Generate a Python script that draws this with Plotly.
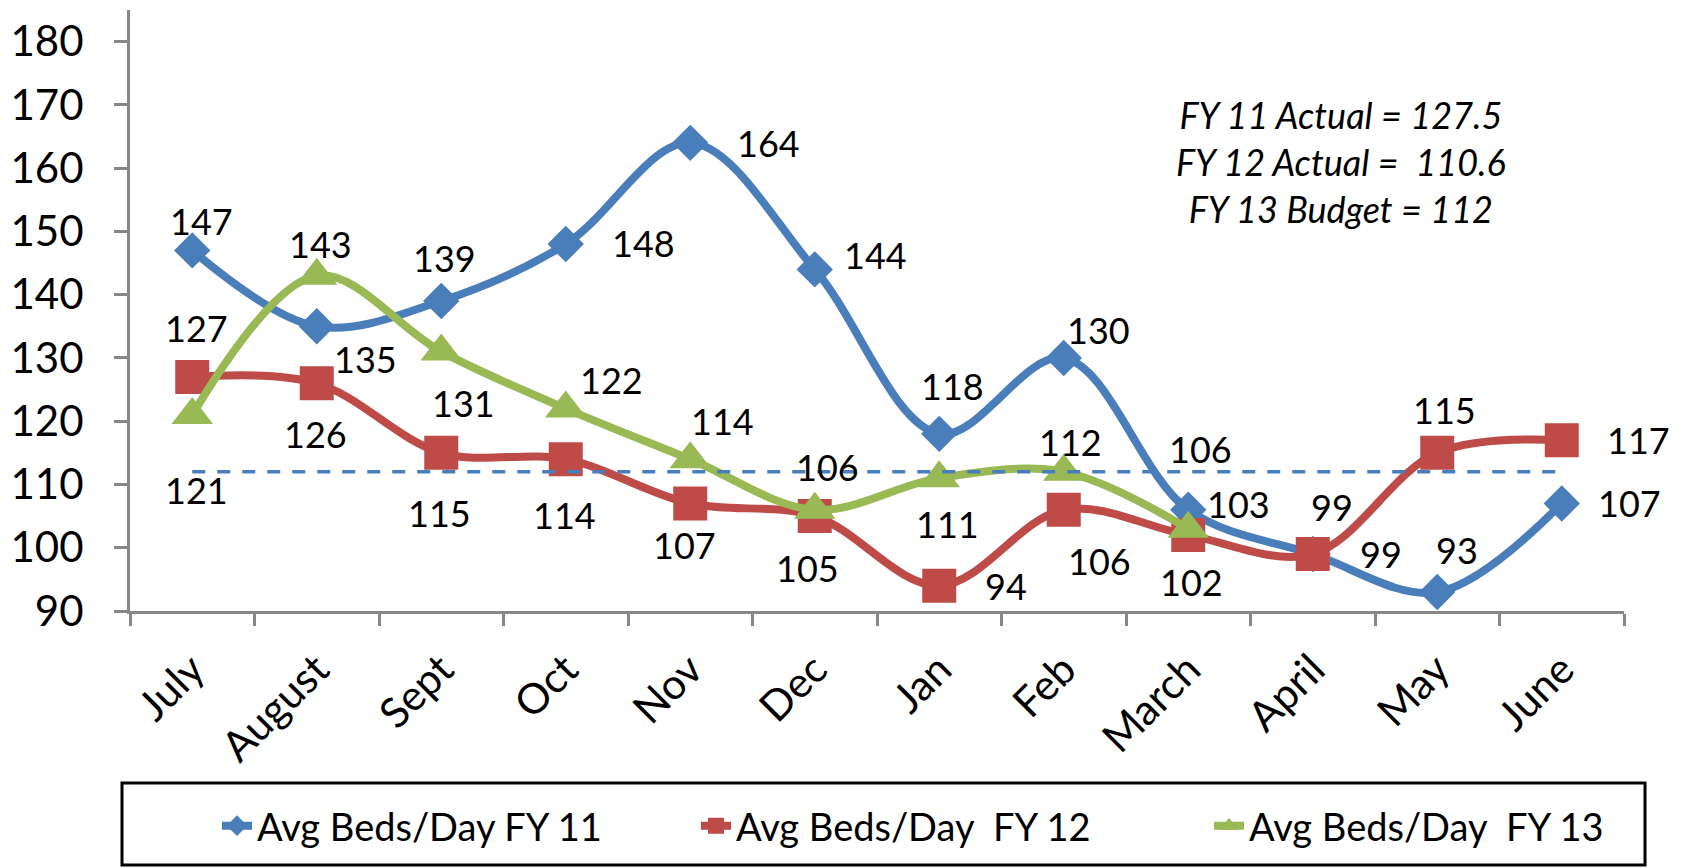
import plotly.graph_objects as go

months = ["July", "August", "Sept", "Oct", "Nov", "Dec", "Jan", "Feb", "March", "April", "May", "June"]
fy11 = [147, 135, 139, 148, 164, 144, 118, 130, 106, 99, 93, 107]
fy12 = [127, 126, 115, 114, 107, 105, 94, 106, 102, 99, 115, 117]
fy13 = [121, 143, 131, 122, 114, 106, 111, 112, 103]
budget = [112] * 12
names = ["Avg Beds/Day FY 11", "Avg Beds/Day\u00a0 FY 12", "Avg Beds/Day\u00a0 FY 13"]
note_lines = ["FY 11 Actual = 127.5", "FY 12 Actual =\u00a0 110.6", "FY 13 Budget = 112"]

# label offsets in pixels (dx right, dy down)
off11 = [(9, -29), (49, 33), (3, -43), (78, -1), (78, 0), (61, -14), (13, -48), (35, -28), (12, -61), (68, 0), (20, -42), (68, 0)]
off12 = [(4, -49), (-1, 51), (-2, 60), (-1, 56), (-6, 42), (-7, 52), (67, 0), (36, 51), (3, 47), (19, -47), (7, -43), (77, 0)]
off13 = [(4, 75), (4, -32), (22, 51), (46, -29), (32, -38), (13, -43), (8, 46), (7, -30), (50, -25)]

BLUE, RED, GREEN = "#4A7EBB", "#BE4B48", "#98B954"
FONT = "Lato"
W, H = 1681, 860

fig = go.Figure()
fig.add_trace(go.Scatter(x=months, y=fy11, name=names[0], mode="lines+markers", legend="legend",
                         line=dict(color=BLUE, width=8, shape="spline", smoothing=1),
                         marker=dict(symbol="diamond", size=28, color=BLUE)))
fig.add_trace(go.Scatter(x=months, y=fy12, name=names[1], mode="lines+markers", legend="legend2",
                         line=dict(color=RED, width=8, shape="spline", smoothing=1),
                         marker=dict(symbol="square", size=34, color=RED)))
fig.add_trace(go.Scatter(x=months[:len(fy13)], y=fy13, name=names[2], mode="lines+markers", legend="legend3",
                         line=dict(color=GREEN, width=8, shape="spline", smoothing=1),
                         marker=dict(symbol="triangle-up", size=36, color=GREEN)))
fig.add_trace(go.Scatter(x=months, y=budget, mode="lines", showlegend=False, hoverinfo="skip",
                         line=dict(color=BLUE, width=3.5, dash="13px,12px")))

ann = []
for vals, offs in ((fy11, off11), (fy12, off12), (fy13, off13)):
    for m, v, (dx, dy) in zip(months, vals, offs):
        ann.append(dict(x=m, y=v, xref="x", yref="y", text=str(v), showarrow=False,
                        xshift=dx, yshift=-dy, xanchor="center", yanchor="middle",
                        font=dict(family=FONT, size=36, color="black")))
ann.append(dict(x=0.8106, y=0.747, xref="paper", yref="paper", showarrow=False,
                text="<br>".join(note_lines), align="center", xanchor="center", yanchor="middle",
                font=dict(family=FONT, size=36, color="black", style="italic")))

def leg(xpx):
    return dict(orientation="h", xref="container", yref="container", x=xpx / W, y=1 - 818 / H,
                xanchor="left", yanchor="middle", font=dict(family=FONT, size=38, color="black"),
                borderwidth=0, bgcolor="rgba(0,0,0,0)")

fig.update_layout(
    width=W, height=H,
    margin=dict(l=122, r=65, t=2, b=257, autoexpand=False),
    paper_bgcolor="white", plot_bgcolor="white",
    font=dict(family=FONT, size=36, color="black"),
    annotations=ann,
    showlegend=True,
    legend=leg(209), legend2=leg(688), legend3=leg(1201),
    shapes=[dict(type="rect", xref="paper", yref="paper",
                 x0=-0.00535, x1=1.01406, y0=-0.4226, y1=-0.2862,
                 line=dict(color="black", width=3), fillcolor="rgba(0,0,0,0)", layer="above")],
)
fig.update_xaxes(type="category", range=[-0.5, 11.5], showline=True, linecolor="#878787", linewidth=3,
                 ticks="outside", ticklen=12, tickwidth=3, tickcolor="#878787", tickson="boundaries",
                 tickangle=-45, showgrid=False, zeroline=False, ticklabelstandoff=14, automargin=False,
                 tickfont=dict(family=FONT, size=42, color="black"))
fig.update_yaxes(range=[90, 185], tickvals=list(range(90, 181, 10)), showline=True, linecolor="#878787",
                 linewidth=3, ticks="outside", ticklen=13, tickwidth=3, tickcolor="#878787",
                 showgrid=False, zeroline=False, ticklabelstandoff=22, automargin=False,
                 tickfont=dict(family=FONT, size=42, color="black"))

fig.write_html("out.html")
